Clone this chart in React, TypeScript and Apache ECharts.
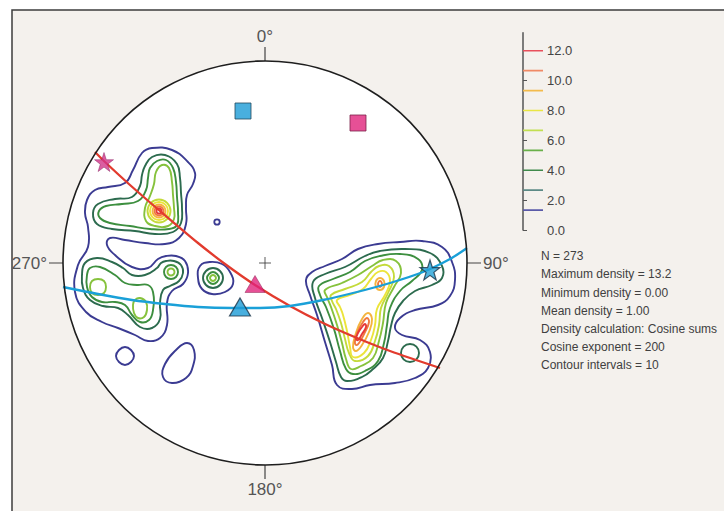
import React, { useEffect, useRef } from "react";
import * as echarts from "echarts";

// ---------------- data ----------------
const azimuthTicks = [0, 90, 180, 270];
const contourLevels = [1.33, 2.67, 4.0, 5.33, 6.67, 8.0, 9.33, 10.67, 12.0];
const scaleTickValues = [0, 2, 4, 6, 8, 10, 12];
const maxDensity = 13.2;
const statLines = [
  "N = 273",
  "Maximum density = 13.2",
  "Minimum density = 0.00",
  "Mean density = 1.00",
  "Density calculation: Cosine sums",
  "Cosine exponent = 200",
  "Contour intervals = 10",
];

// contour loops, in projection units (net radius = 202, centre = 0,0)
const l1West = [[-123,110],[-113,115],[-93,113],[-77,101],[-70,90],[-72,79],[-78,68],[-79,55],[-79,39],[-86,25],[-100,19],[-120,20],[-140,23],[-155,25],[-158,18],[-150,8],[-133,-4],[-117,-5],[-107,4],[-99,7],[-89,7],[-80,2],[-77,-10],[-82,-21],[-93,-28],[-98,-40],[-98,-62],[-105,-75],[-117,-78],[-130,-72],[-147,-65],[-163,-59],[-179,-49],[-190,-29],[-187,-2],[-177,16],[-177,36],[-180,50],[-178,63],[-170,73],[-157,76],[-140,80],[-132,93]];
const l1SmallSW = [[-140,-84],[-134,-87],[-131,-93],[-134,-99],[-140,-102],[-146,-99],[-149,-93],[-146,-87]];
const l1Leaf = [[-78,-80],[-71,-87],[-72,-103],[-79,-115],[-93,-120],[-102,-114],[-100,-101],[-89,-87]];
const l1Centre = [[-65,-3],[-55,1],[-43,-1],[-35,-9],[-32,-21],[-40,-29],[-53,-31],[-63,-26],[-67,-15]];
const l1Dot = [[-50,43],[-46,43],[-46,39],[-50,39]];
const l1East = [[41,-17],[47,-9],[60,-3],[77,4],[93,14],[113,19],[135,21],[157,22],[177,16],[187,1],[190,-17],[185,-33],[173,-42],[150,-47],[135,-55],[130,-65],[137,-72],[155,-77],[165,-89],[163,-105],[150,-115],[130,-120],[105,-122],[87,-126],[72,-122],[67,-102],[60,-79],[52,-52],[45,-32]];

const l2NW = [[-120,97],[-113,106],[-100,108],[-88,99],[-85,85],[-84,70],[-83,55],[-84,40],[-92,31],[-110,29],[-130,32],[-153,34],[-168,39],[-172,50],[-167,59],[-150,64],[-133,66],[-125,77],[-123,88]];
const l2SW = [[-180,0],[-168,5],[-153,1],[-142,-5],[-133,-12],[-120,-12],[-108,-5],[-104,0],[-99,2],[-91,2],[-84,-2],[-82,-10],[-86,-18],[-95,-23],[-102,-27],[-105,-40],[-105,-56],[-113,-65],[-125,-64],[-137,-52],[-147,-45],[-162,-43],[-175,-37],[-182,-25],[-183,-12]];
const l2Centre = [[-52,-5],[-45,-8],[-42,-15],[-45,-22],[-52,-25],[-59,-22],[-62,-15],[-59,-8]];
const l2East = [[48,-19],[60,-11],[80,-4],[100,7],[115,12],[140,14],[165,10],[177,-3],[177,-15],[167,-22],[150,-28],[138,-38],[130,-50],[126,-63],[123,-78],[118,-95],[108,-106],[97,-114],[82,-118],[76,-114],[71,-99],[65,-79],[57,-55],[50,-35]];
const l2EastRing = [[145,-81],[151.4,-83.6],[154,-90],[151.4,-96.4],[145,-99],[138.6,-96.4],[136,-90],[138.6,-83.6]];

const l3NW = [[-115,95],[-108,102],[-99,103],[-92,95],[-89,81],[-88,66],[-87,51],[-88,38],[-96,34],[-115,34],[-135,37],[-155,40],[-165,45],[-166,52],[-159,57],[-143,59],[-127,62],[-119,73],[-117,85]];
const l3SW = [[-175,-5],[-165,-4],[-150,-12],[-140,-20],[-128,-22],[-117,-22],[-112,-29],[-112,-47],[-116,-57],[-125,-59],[-133,-52],[-140,-42],[-150,-39],[-163,-39],[-173,-34],[-178,-24],[-178,-12]];
const l3SWRing = [[-94,-2],[-89,-4],[-87,-9],[-89,-14],[-94,-16],[-99,-14],[-101,-9],[-99,-4]];
const l3Centre = [[-52,-9],[-48,-11],[-46,-15],[-48,-19],[-52,-21],[-56,-19],[-58,-15],[-56,-11]];
const l3East = [[54,-23],[68,-16],[85,-9],[100,2],[115,7],[135,9],[153,4],[157,-7],[147,-18],[135,-28],[125,-45],[122,-62],[119,-80],[113,-98],[100,-108],[88,-111],[81,-106],[75,-88],[69,-66],[61,-44],[55,-32]];

const l4NW = [[-109,91],[-103,98],[-96,95],[-93,81],[-92,68],[-91,55],[-91,44],[-97,37],[-110,37],[-119,42],[-120,55],[-115,67],[-111,79]];
const l4SWRing = [[-94,-5.5],[-91.5,-6.5],[-90.5,-9],[-91.5,-11.5],[-94,-12.5],[-96.5,-11.5],[-97.5,-9],[-96.5,-6.5]];
const l4SWCircle = [[-167,-16],[-161,-18],[-159,-24],[-161,-30],[-167,-32],[-173,-30],[-175,-24],[-173,-18]];
const l4SWOval = [[-125,-35],[-119,-39],[-118,-47],[-121,-54],[-127,-55],[-131,-50],[-132,-42],[-130,-37]];
const l4Centre = [[-52,-12],[-49,-15],[-52,-18],[-55,-15]];
const l4East = [[60,-27],[77,-20],[93,-12],[107,-3],[118,3],[131,2],[136,-10],[129,-24],[121,-40],[118,-60],[114,-78],[108,-95],[96,-103],[86,-106],[81,-96],[77,-80],[72,-62],[66,-44],[62,-34]];

const l5NW = [[-106,63.5],[-97.9,60.1],[-94.5,52],[-97.9,43.9],[-106,40.5],[-114.1,43.9],[-117.5,52],[-114.1,60.1]];
const l5East = [[66,-32],[80,-26],[97,-19],[106,-9],[114,-3],[124,-3],[129,-14],[123,-30],[116,-45],[114,-62],[110,-78],[103,-93],[90,-98],[84,-90],[80,-76],[76,-60],[71,-46],[67,-38]];

const l6NW = [[-106,61],[-99.6,58.4],[-97,52],[-99.6,45.6],[-106,43],[-112.4,45.6],[-115,52],[-112.4,58.4]];
const l6East = [[72,-37],[85,-32],[98,-26],[106,-16],[113,-9],[121,-9],[125,-18],[120,-32],[112,-46],[110,-62],[106,-77],[99,-90],[88,-94],[85,-84],[82,-68],[78,-52],[75,-44]];

const l7NW = [[-106,58.5],[-101.4,56.6],[-99.5,52],[-101.4,47.4],[-106,45.5],[-110.6,47.4],[-112.5,52],[-110.6,56.6]];
const l7EastTop = [[115,-15],[119,-18],[119,-24],[115,-27],[111,-24],[111,-18]];
const l7EastLow = [[103,-50],[107,-56],[104,-69],[97,-82],[91,-88],[88,-84],[91,-70],[97,-56]];

const l8NW = [[-106,56.5],[-102.8,55.2],[-101.5,52],[-102.8,48.8],[-106,47.5],[-109.2,48.8],[-110.5,52],[-109.2,55.2]];
const l8EastTop = [[115,-18],[117,-21],[115,-24],[113,-21]];
const l8EastLow = [[102,-55],[104,-59],[100,-69],[94,-80],[91,-82],[90,-78],[93,-68],[98,-59]];

const l9NW = [[-106,54.5],[-104.2,53.8],[-103.5,52],[-104.2,50.2],[-106,49.5],[-107.8,50.2],[-108.5,52],[-107.8,53.8]];
const l9EastLow = [[100,-61],[101,-64],[97,-71],[93,-77],[91,-76],[93,-70],[97,-64]];

// great circles
const redGreatCircle = [[-170,111],[-160,101],[-135,78],[-105,52],[-67,20],[-40,-1],[-10,-22],[25,-43],[58,-60],[92,-75],[125,-88],[175,-105]];
const blueGreatCircle = [[-202,-24],[-167,-31],[-133,-37],[-100,-41],[-67,-44],[-33,-45],[-5,-45],[25,-43],[58,-37],[92,-29],[125,-20],[158,-9],[185,4],[202,15]];

// poles / markers
const blueSquare = [[-22, 152]];
const magentaSquare = [[93, 140]];
const magentaStar = [[-161, 101]];
const blueStar = [[165, -7]];
const magentaTriangle = [[-10, -21]];
const blueTriangle = [[-25, -44]];
const netCentre = [[0, 0]];

const contourLoops = [
  { level: 1, pts: l1West }, { level: 1, pts: l1SmallSW }, { level: 1, pts: l1Leaf },
  { level: 1, pts: l1Centre }, { level: 1, pts: l1Dot }, { level: 1, pts: l1East },
  { level: 2, pts: l2NW }, { level: 2, pts: l2SW }, { level: 2, pts: l2Centre },
  { level: 2, pts: l2East }, { level: 2, pts: l2EastRing },
  { level: 3, pts: l3NW }, { level: 3, pts: l3SW }, { level: 3, pts: l3SWRing },
  { level: 3, pts: l3Centre }, { level: 3, pts: l3East },
  { level: 4, pts: l4NW }, { level: 4, pts: l4SWRing }, { level: 4, pts: l4SWCircle },
  { level: 4, pts: l4SWOval }, { level: 4, pts: l4Centre }, { level: 4, pts: l4East },
  { level: 5, pts: l5NW }, { level: 5, pts: l5East },
  { level: 6, pts: l6NW }, { level: 6, pts: l6East },
  { level: 7, pts: l7NW }, { level: 7, pts: l7EastTop }, { level: 7, pts: l7EastLow },
  { level: 8, pts: l8NW }, { level: 8, pts: l8EastTop }, { level: 8, pts: l8EastLow },
  { level: 9, pts: l9NW }, { level: 9, pts: l9EastLow },
];

// ---------------- styles ----------------
const contourColors = ["#3b3b92", "#2c6b4e", "#3d8f3f", "#86c23c", "#c4da3a", "#ece43a", "#f4b43e", "#f0793e", "#e5383a"];
const scaleColors = ["#5a5aa8", "#5c8a86", "#3f8a4c", "#69b04a", "#c2df52", "#e9e645", "#f3bb4c", "#f08a66", "#e8505c"];
const FONT = "'Liberation Sans', Arial, sans-serif";
const NET_R = 202;
const STAR = "path://M50,0L61.8,35.1L98.9,35.2L69.1,57.4L80.3,92.7L50,71.3L19.7,92.7L30.9,57.4L1.1,35.2L38.2,35.1Z";

export default function App() {
  const ref = useRef<HTMLDivElement>(null);

  useEffect(() => {
    document.body.style.margin = "0";
    const chart = echarts.init(ref.current!, null, { renderer: "svg" });

    const option: any = {
      animation: false,
      backgroundColor: "#ffffff",
      graphic: [
        {
          type: "rect",
          z: 0,
          silent: true,
          shape: { x: 12, y: 10, width: 740, height: 520 },
          style: { fill: "#f4f1ed", stroke: "#3c3c3c", lineWidth: 1.5 },
        },
        {
          type: "circle",
          z: 1,
          silent: true,
          shape: { cx: 265, cy: 263, r: NET_R },
          style: { fill: "#ffffff" },
        },
        {
          type: "text",
          z: 1,
          x: 541,
          y: 247,
          silent: true,
          style: {
            text: statLines.join("\n"),
            fontFamily: FONT,
            fontSize: 12,
            lineHeight: 18.2,
            fill: "#404040",
            verticalAlign: "top",
          },
        },
      ],
      polar: { center: [265, 263], radius: NET_R },
      radiusAxis: { show: false, min: 0, max: 1 },
      angleAxis: {
        z: 5,
        type: "value",
        min: 0,
        max: 360,
        interval: 90,
        startAngle: 90,
        clockwise: true,
        axisLine: { lineStyle: { color: "#1e1e1e", width: 1.6 } },
        axisTick: { show: true, length: 14, lineStyle: { color: "#444", width: 1.2 } },
        axisLabel: {
          margin: 16,
          fontFamily: FONT,
          fontSize: 17,
          color: "#555",
          formatter: (v: number) => (azimuthTicks.includes(v) ? `${v}°` : ""),
        },
        splitLine: { show: false },
        splitArea: { show: false },
      },
      grid: [
        { left: 63, top: 61, width: 2 * NET_R, height: 2 * NET_R },
        { left: 523, top: 32.8, width: 20, height: 197.2 },
      ],
      xAxis: [
        { gridIndex: 0, type: "value", min: -NET_R, max: NET_R, show: false },
        { gridIndex: 1, type: "value", min: 0, max: 1, show: false },
      ],
      yAxis: [
        { gridIndex: 0, type: "value", min: -NET_R, max: NET_R, show: false },
        {
          gridIndex: 1,
          type: "value",
          position: "right",
          min: 0,
          max: maxDensity,
          interval: 2,
          axisLine: { show: true, lineStyle: { color: "#555", width: 1.5 } },
          axisTick: { show: true, length: 4, lineStyle: { color: "#555" }, customValues: scaleTickValues },
          axisLabel: {
            margin: 4,
            fontFamily: FONT,
            fontSize: 13,
            color: "#444",
            customValues: scaleTickValues,
            formatter: (v: number) => v.toFixed(1),
          },
          splitLine: { show: false },
        },
      ],
      series: [
        {
          type: "custom",
          coordinateSystem: "cartesian2d",
          xAxisIndex: 0,
          yAxisIndex: 0,
          silent: true,
          z: 2,
          data: contourLoops.map((c, i) => [i, c.level]),
          renderItem: (params: any, api: any) => {
            const c = contourLoops[params.dataIndex];
            const pts = c.pts.map((p) => api.coord(p));
            return {
              type: "polygon",
              shape: { points: pts, smooth: 0.45 },
              style: { fill: "none", stroke: contourColors[c.level - 1], lineWidth: 1.9 },
            };
          },
        },
        {
          type: "line",
          xAxisIndex: 0,
          yAxisIndex: 0,
          data: redGreatCircle,
          smooth: 0.3,
          symbol: "none",
          silent: true,
          z: 3,
          lineStyle: { color: "#e23b2e", width: 2.3 },
        },
        {
          type: "line",
          xAxisIndex: 0,
          yAxisIndex: 0,
          data: blueGreatCircle,
          smooth: 0.3,
          symbol: "none",
          silent: true,
          z: 3,
          lineStyle: { color: "#1aa0d8", width: 2.3 },
        },
        {
          type: "scatter", xAxisIndex: 0, yAxisIndex: 0, silent: true, z: 4,
          data: blueSquare, symbol: "rect", symbolSize: 16,
          itemStyle: { color: "#1b9bd6", borderColor: "#23485e", borderWidth: 1 },
        },
        {
          type: "scatter", xAxisIndex: 0, yAxisIndex: 0, silent: true, z: 4,
          data: magentaSquare, symbol: "rect", symbolSize: 16,
          itemStyle: { color: "#e0247c", borderColor: "#7a2048", borderWidth: 1 },
        },
        {
          type: "scatter", xAxisIndex: 0, yAxisIndex: 0, silent: true, z: 4,
          data: magentaStar, symbol: STAR, symbolSize: 19,
          itemStyle: { color: "#d2358a", borderColor: "#8a2060", borderWidth: 0.6 },
        },
        {
          type: "scatter", xAxisIndex: 0, yAxisIndex: 0, silent: true, z: 4,
          data: blueStar, symbol: STAR, symbolSize: 20,
          itemStyle: { color: "#23a2d8", borderColor: "#1d3346", borderWidth: 1.2 },
        },
        {
          type: "scatter", xAxisIndex: 0, yAxisIndex: 0, silent: true, z: 4,
          data: magentaTriangle, symbol: "triangle", symbolSize: [20, 17],
          itemStyle: { color: "#e0247c", borderColor: "#8a2050", borderWidth: 0.6 },
        },
        {
          type: "scatter", xAxisIndex: 0, yAxisIndex: 0, silent: true, z: 4,
          data: blueTriangle, symbol: "triangle", symbolSize: [21, 18],
          itemStyle: { color: "#1b9bd6", borderColor: "#1d3346", borderWidth: 1.2 },
        },
        {
          type: "scatter", xAxisIndex: 0, yAxisIndex: 0, silent: true, z: 4,
          data: netCentre, symbol: "path://M0,6L12,6M6,0L6,12", symbolSize: 12,
          itemStyle: { color: "none", borderColor: "#333", borderWidth: 1 },
        },
        ...contourLevels.map((lvl, i) => ({
          type: "line",
          xAxisIndex: 1,
          yAxisIndex: 1,
          data: [[0, lvl], [1, lvl]],
          symbol: "none",
          silent: true,
          z: 3,
          lineStyle: { color: scaleColors[i], width: 1.6 },
        })),
      ],
    };

    chart.setOption(option);
    return () => chart.dispose();
  }, []);

  return <div ref={ref} style={{ width: 724, height: 511 }} />;
}
